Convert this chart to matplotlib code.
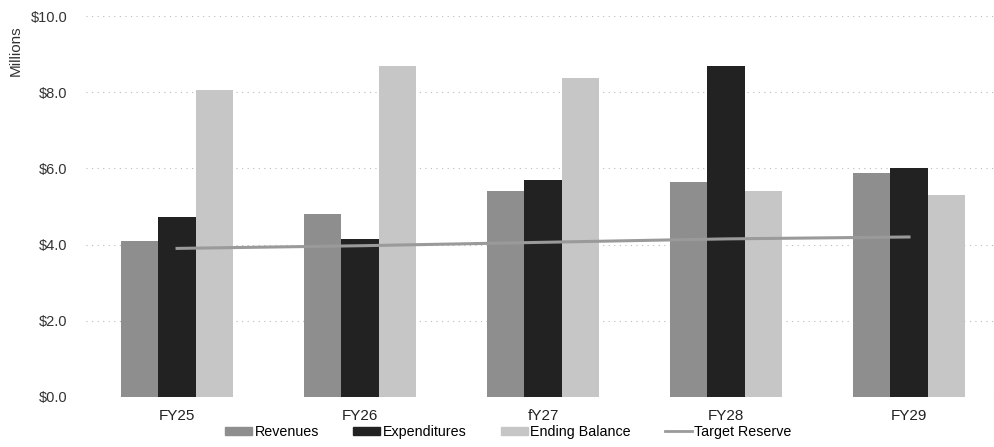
import matplotlib
matplotlib.use("Agg")
import matplotlib.pyplot as plt
import numpy as np
from matplotlib.patches import Patch
from matplotlib.lines import Line2D

categories = ["FY25", "FY26", "fY27", "FY28", "FY29"]
revenues = [4.1, 4.8, 5.4, 5.65, 5.88]
expenditures = [4.72, 4.15, 5.7, 8.68, 6.02]
ending_balance = [8.05, 8.7, 8.38, 5.4, 5.3]
target_reserve = [3.9, 3.97, 4.06, 4.15, 4.2]
yticks = [0, 2, 4, 6, 8, 10]

plt.rcParams['font.family'] = ['Liberation Sans', 'DejaVu Sans']

fig = plt.figure(figsize=(9.95, 4.47), dpi=100)
ax = fig.add_axes([0.086, 0.112, 0.914, 0.852])

x = np.arange(len(categories))
w = 0.205
c_rev, c_exp, c_end, c_tgt = "#8e8e8e", "#222222", "#c6c6c6", "#9a9a9a"
ax.bar(x - w, revenues, w, color=c_rev, zorder=2)
ax.bar(x, expenditures, w, color=c_exp, zorder=2)
ax.bar(x + w, ending_balance, w, color=c_end, zorder=2)
ax.plot(x, target_reserve, color=c_tgt, lw=2.2, zorder=3)

ax.set_xlim(-0.5, len(categories) - 0.5 - 0.03)
ax.set_ylim(0, 10)
ax.set_yticks(yticks)
ax.set_yticklabels([f"${v:.1f}" for v in yticks], fontsize=10.5, color="#333333")
ax.set_xticks(x)
ax.set_xticklabels(categories, fontsize=11, color="#222222")
ax.tick_params(length=0)
ax.tick_params(axis='x', pad=9)
ax.tick_params(axis='y', pad=13)
for s in ax.spines.values():
    s.set_visible(False)
ax.yaxis.grid(True, color="#bbbbbb", linestyle=(0, (1, 4)), lw=0.8, zorder=0)
ax.set_axisbelow(True)

fig.text(0.016, 0.886, "Millions", rotation=90, ha="center", va="center", fontsize=11, color="#333333")

handles = [Patch(color=c_rev), Patch(color=c_exp), Patch(color=c_end),
           Line2D([0], [0], color=c_tgt, lw=2)]
labels = ["Revenues", "Expenditures", "Ending Balance", "Target Reserve"]
fig.legend(handles, labels, loc="center", bbox_to_anchor=(0.511, 0.034), ncol=4, frameon=False,
           fontsize=10.3, handlelength=1.9, handleheight=0.5, handletextpad=0.15, columnspacing=2.4)

fig.savefig("out.png", dpi=100)
